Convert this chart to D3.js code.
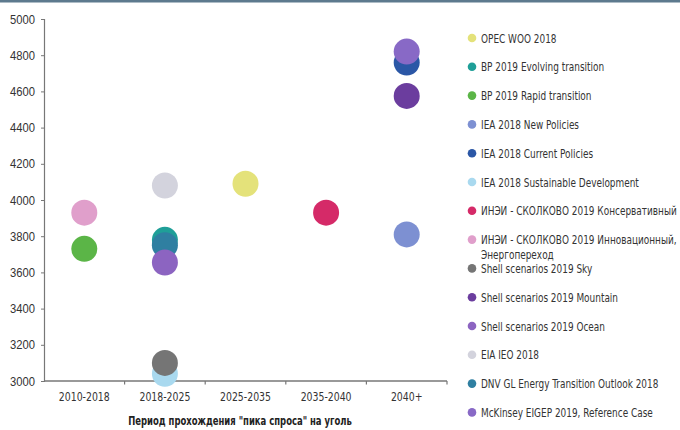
<!DOCTYPE html>
<html>
<head>
<meta charset="utf-8">
<script src="https://cdn.jsdelivr.net/npm/d3@7"></script>
<style>
  html, body { margin: 0; padding: 0; background: #fff; }
  svg { display: block; font-family: "DejaVu Sans Condensed", "DejaVu Sans", sans-serif; }
</style>
</head>
<body>
<svg id="chart" width="680" height="430"></svg>
<script>
// Periods when coal demand peaks, by forecast scenario
const periods = ["2010-2018", "2018-2025", "2025-2035", "2035-2040", "2040+"];
const yTicks = [3000, 3200, 3400, 3600, 3800, 4000, 4200, 4400, 4600, 4800, 5000];

const scenarios = [
  "OPEC WOO 2018",
  "BP 2019 Evolving transition",
  "BP 2019 Rapid transition",
  "IEA 2018 New Policies",
  "IEA 2018 Current Policies",
  "IEA 2018 Sustainable Development",
  "ИНЭИ - СКОЛКОВО 2019 Консервативный",
  "ИНЭИ - СКОЛКОВО 2019 Инновационный, Энергопереход",
  "Shell scenarios 2019 Sky",
  "Shell scenarios 2019 Mountain",
  "Shell scenarios 2019 Ocean",
  "EIA IEO 2018",
  "DNV GL Energy Transition Outlook 2018",
  "McKinsey EIGEP 2019, Reference Case"
];
const scenarioPeriod = [
  "2025-2035", "2018-2025", "2010-2018", "2040+", "2040+", "2018-2025", "2035-2040",
  "2010-2018", "2018-2025", "2040+", "2018-2025", "2018-2025", "2018-2025", "2040+"
];
const peakDemand = [4090, 3780, 3730, 3810, 4760, 3040, 3930, 3930, 3100, 4575, 3655, 4080, 3750, 4820];
const colors = [
  "#e4e27a", "#1f9f98", "#5bb547", "#7d90d2", "#2b57a6", "#a9d9ef", "#d52a68",
  "#e09fcb", "#757575", "#6b3d9e", "#8c64c1", "#d3d3dd", "#2f7fa1", "#8869c6"
];
// Stacking order of the circles (later ones sit on top)
const drawOrder = [0, 1, 2, 3, 4, 5, 6, 7, 8, 9, 11, 12, 10, 13];

const svg = d3.select("#chart");

// Narrow the glyphs of a text to a target width
function condenseTo(sel, width) {
  const w = sel.node().getComputedTextLength();
  return width / w;
}

// Top rule
svg.append("rect").attr("x", 0).attr("y", 0).attr("width", 680).attr("height", 2.5).attr("fill", "#5d7a8e");

const margin = { left: 44, right: 447, top: 19, bottom: 381 };
const x = d3.scaleBand().domain(periods).range([margin.left, margin.right]);
const y = d3.scaleLinear().domain([3000, 5000]).range([margin.bottom, margin.top]);

// Y axis
const yAxis = svg.append("g")
  .attr("transform", `translate(${margin.left},0)`)
  .call(d3.axisLeft(y).tickValues(yTicks).tickSize(3).tickPadding(6).tickFormat(d3.format("d")));
yAxis.select(".domain").attr("stroke", "#777").attr("stroke-width", 1.2);
yAxis.selectAll(".tick line").attr("stroke", "#777");
const yLabels = yAxis.selectAll(".tick text")
  .attr("fill", "#333").attr("font-size", 12.5).attr("font-family", "inherit");
const kY = condenseTo(yLabels.filter(d => d === 5000), 25);
yLabels.attr("transform", `scale(${kY},1)`).attr("x", -9 / kY);

// X axis with ticks on the category boundaries
const xAxisG = svg.append("g").attr("transform", `translate(0,${margin.bottom})`);
xAxisG.append("line")
  .attr("x1", margin.left).attr("x2", margin.right)
  .attr("stroke", "#777").attr("stroke-width", 1.5);
const bounds = periods.slice(1).map(d => x(d)).concat([margin.right]);
xAxisG.selectAll("line.b").data(bounds)
  .join("line").attr("class", "b")
  .attr("x1", d => d).attr("x2", d => d)
  .attr("y1", 0).attr("y2", 3.5).attr("stroke", "#777").attr("stroke-width", 1.2);
const xLabels = xAxisG.selectAll("g.lbl").data(periods).join("g").attr("class", "lbl")
  .attr("transform", d => `translate(${x(d) + x.bandwidth() / 2},20)`)
  .append("text")
  .attr("text-anchor", "middle")
  .attr("fill", "#333").attr("font-size", 12.5)
  .text(d => d);
const kX = condenseTo(xLabels.filter(d => d === "2010-2018"), 51);
xLabels.attr("transform", `scale(${kX},1)`);

const titleG = svg.append("g").attr("transform", "translate(240,425)");
const title = titleG.append("text")
  .attr("text-anchor", "middle")
  .attr("fill", "#222").attr("font-size", 12).attr("font-weight", "bold")
  .text("Период прохождения \"пика спроса\" на уголь");
title.attr("transform", `scale(${condenseTo(title, 224)},1)`);

// Scenario circles
svg.append("g").selectAll("circle").data(drawOrder).join("circle")
  .attr("cx", i => x(scenarioPeriod[i]) + x.bandwidth() / 2)
  .attr("cy", i => y(peakDemand[i]))
  .attr("r", 13)
  .attr("fill", i => colors[i]);

// Legend
const legend = svg.append("g").attr("transform", "translate(472,38)");
const rowH = 28.8;
const items = legend.selectAll("g").data(scenarios).join("g")
  .attr("transform", (d, i) => `translate(0,${i * rowH})`);
items.append("circle").attr("r", 4.3).attr("fill", (d, i) => colors[i]);
const legendTexts = [];
items.each(function(d, i) {
  const g = d3.select(this).append("g").attr("transform", "translate(9,0)");
  const lines = i === 7 ? ["ИНЭИ - СКОЛКОВО 2019 Инновационный,", "Энергопереход"] : [d];
  lines.forEach((t, j) => {
    legendTexts.push(g.append("text").attr("y", 4.5 + j * 14.5)
      .attr("font-size", 12).attr("fill", "#333").text(t));
  });
});
const kL = condenseTo(legendTexts[6], 196);
legendTexts.forEach(t => t.attr("transform", `scale(${kL},1)`));
</script>
</body>
</html>
